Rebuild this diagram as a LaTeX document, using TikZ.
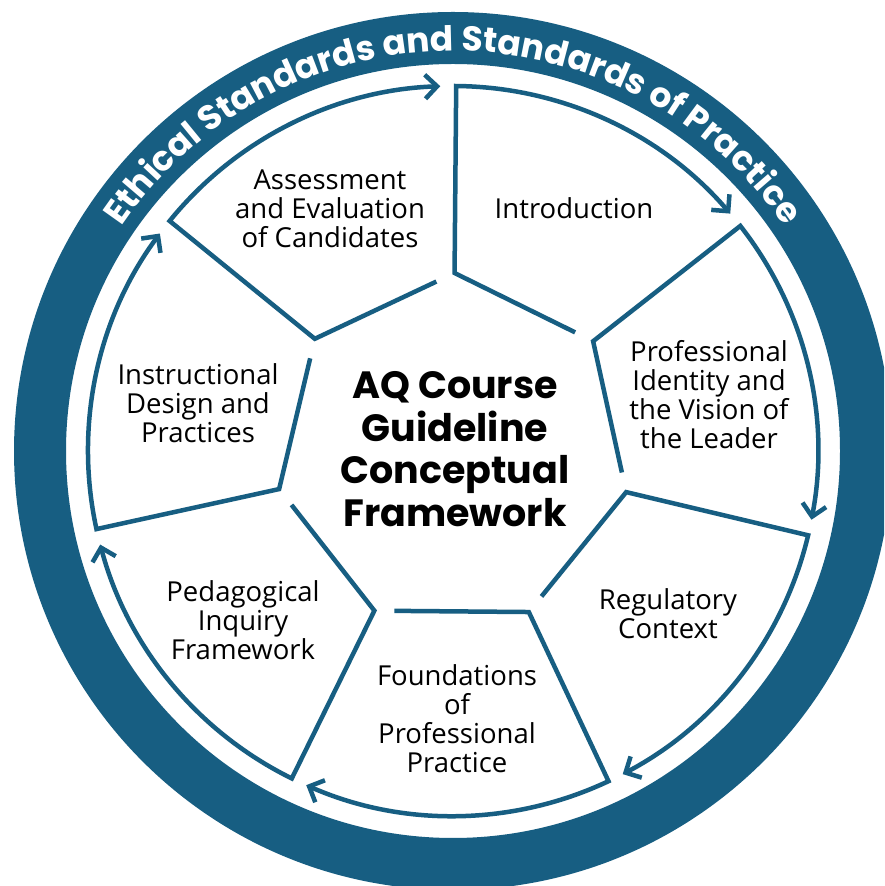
\documentclass[tikz,border=0pt]{standalone}
\usepackage{fontspec}
\setmainfont{Open Sans}
\newfontfamily\heavyfont{Poppins}
\usetikzlibrary{calc,arrows.meta,decorations.text}
\definecolor{ringblue}{RGB}{23,94,130}
\begin{document}
\begin{tikzpicture}[x=1pt,y=1pt,
  seglabel/.style={font=\fontsize{27.5}{29}\selectfont, align=center, text=black, inner sep=0pt},
  centerlabel/.style={font=\heavyfont\bfseries\fontsize{38}{42.5}\selectfont, align=center, text=black, inner sep=0pt},
  segline/.style={draw=ringblue, line width=4.5pt, line join=miter},
  tipend/.style={-{Straight Barb[length=12pt,width=24pt]}}]
\clip (0,0) rectangle (884,886);
\useasboundingbox (0,0) rectangle (884,886);
\fill[white] (0,0) rectangle (884,886);
\coordinate (C) at (453,435);
\fill[ringblue, even odd rule] (C) circle[radius=439pt] (C) circle[radius=387pt];
\path[decorate, decoration={text along path, text align=center, text color=white,
  text={|\heavyfont\bfseries\fontsize{34.5}{34.5}\selectfont|Ethical Standards and Standards of Practice}}]
  ($(C)+(165:400pt)$) arc[start angle=165, end angle=15, radius=400pt];
\foreach \k in {0,...,6} {
  \pgfmathsetmacro\ta{89.5-\k*360/7}
  \pgfmathsetmacro\tb{\ta-360/7}
  \pgfmathsetmacro\te{\tb+2.5}
  \coordinate (corner\k) at ($(C)+(\ta:365pt)$);
  \coordinate (inner\k) at ($(C)+(\ta:178pt)$);
  \coordinate (innernext\k) at ($(C)+(\tb:178pt)$);
  \coordinate (gap\k) at ($(inner\k)!0.87!(innernext\k)$);
  \draw[segline, tipend] (gap\k) -- (inner\k) -- (corner\k) arc[start angle=\ta, end angle=\te, radius=365pt];
}
\node[seglabel] (intro) at (574,678) {Introduction};
\node[seglabel] (assess) at (330,677) {Assessment\\and Evaluation\\of Candidates};
\node[seglabel] (prof) at (709,491) {Professional\\Identity and\\the Vision of\\the Leader};
\node[seglabel] (reg) at (668,272) {Regulatory\\Context};
\node[seglabel] (found) at (457,167) {Foundations\\of\\Professional\\Practice};
\node[seglabel] (ped) at (243,266) {Pedagogical\\Inquiry\\Framework};
\node[seglabel] (instr) at (198,483) {Instructional\\Design and\\Practices};
\node[centerlabel] (title) at (455,437) {AQ Course\\Guideline\\Conceptual\\Framework};
\end{tikzpicture}
\end{document}
